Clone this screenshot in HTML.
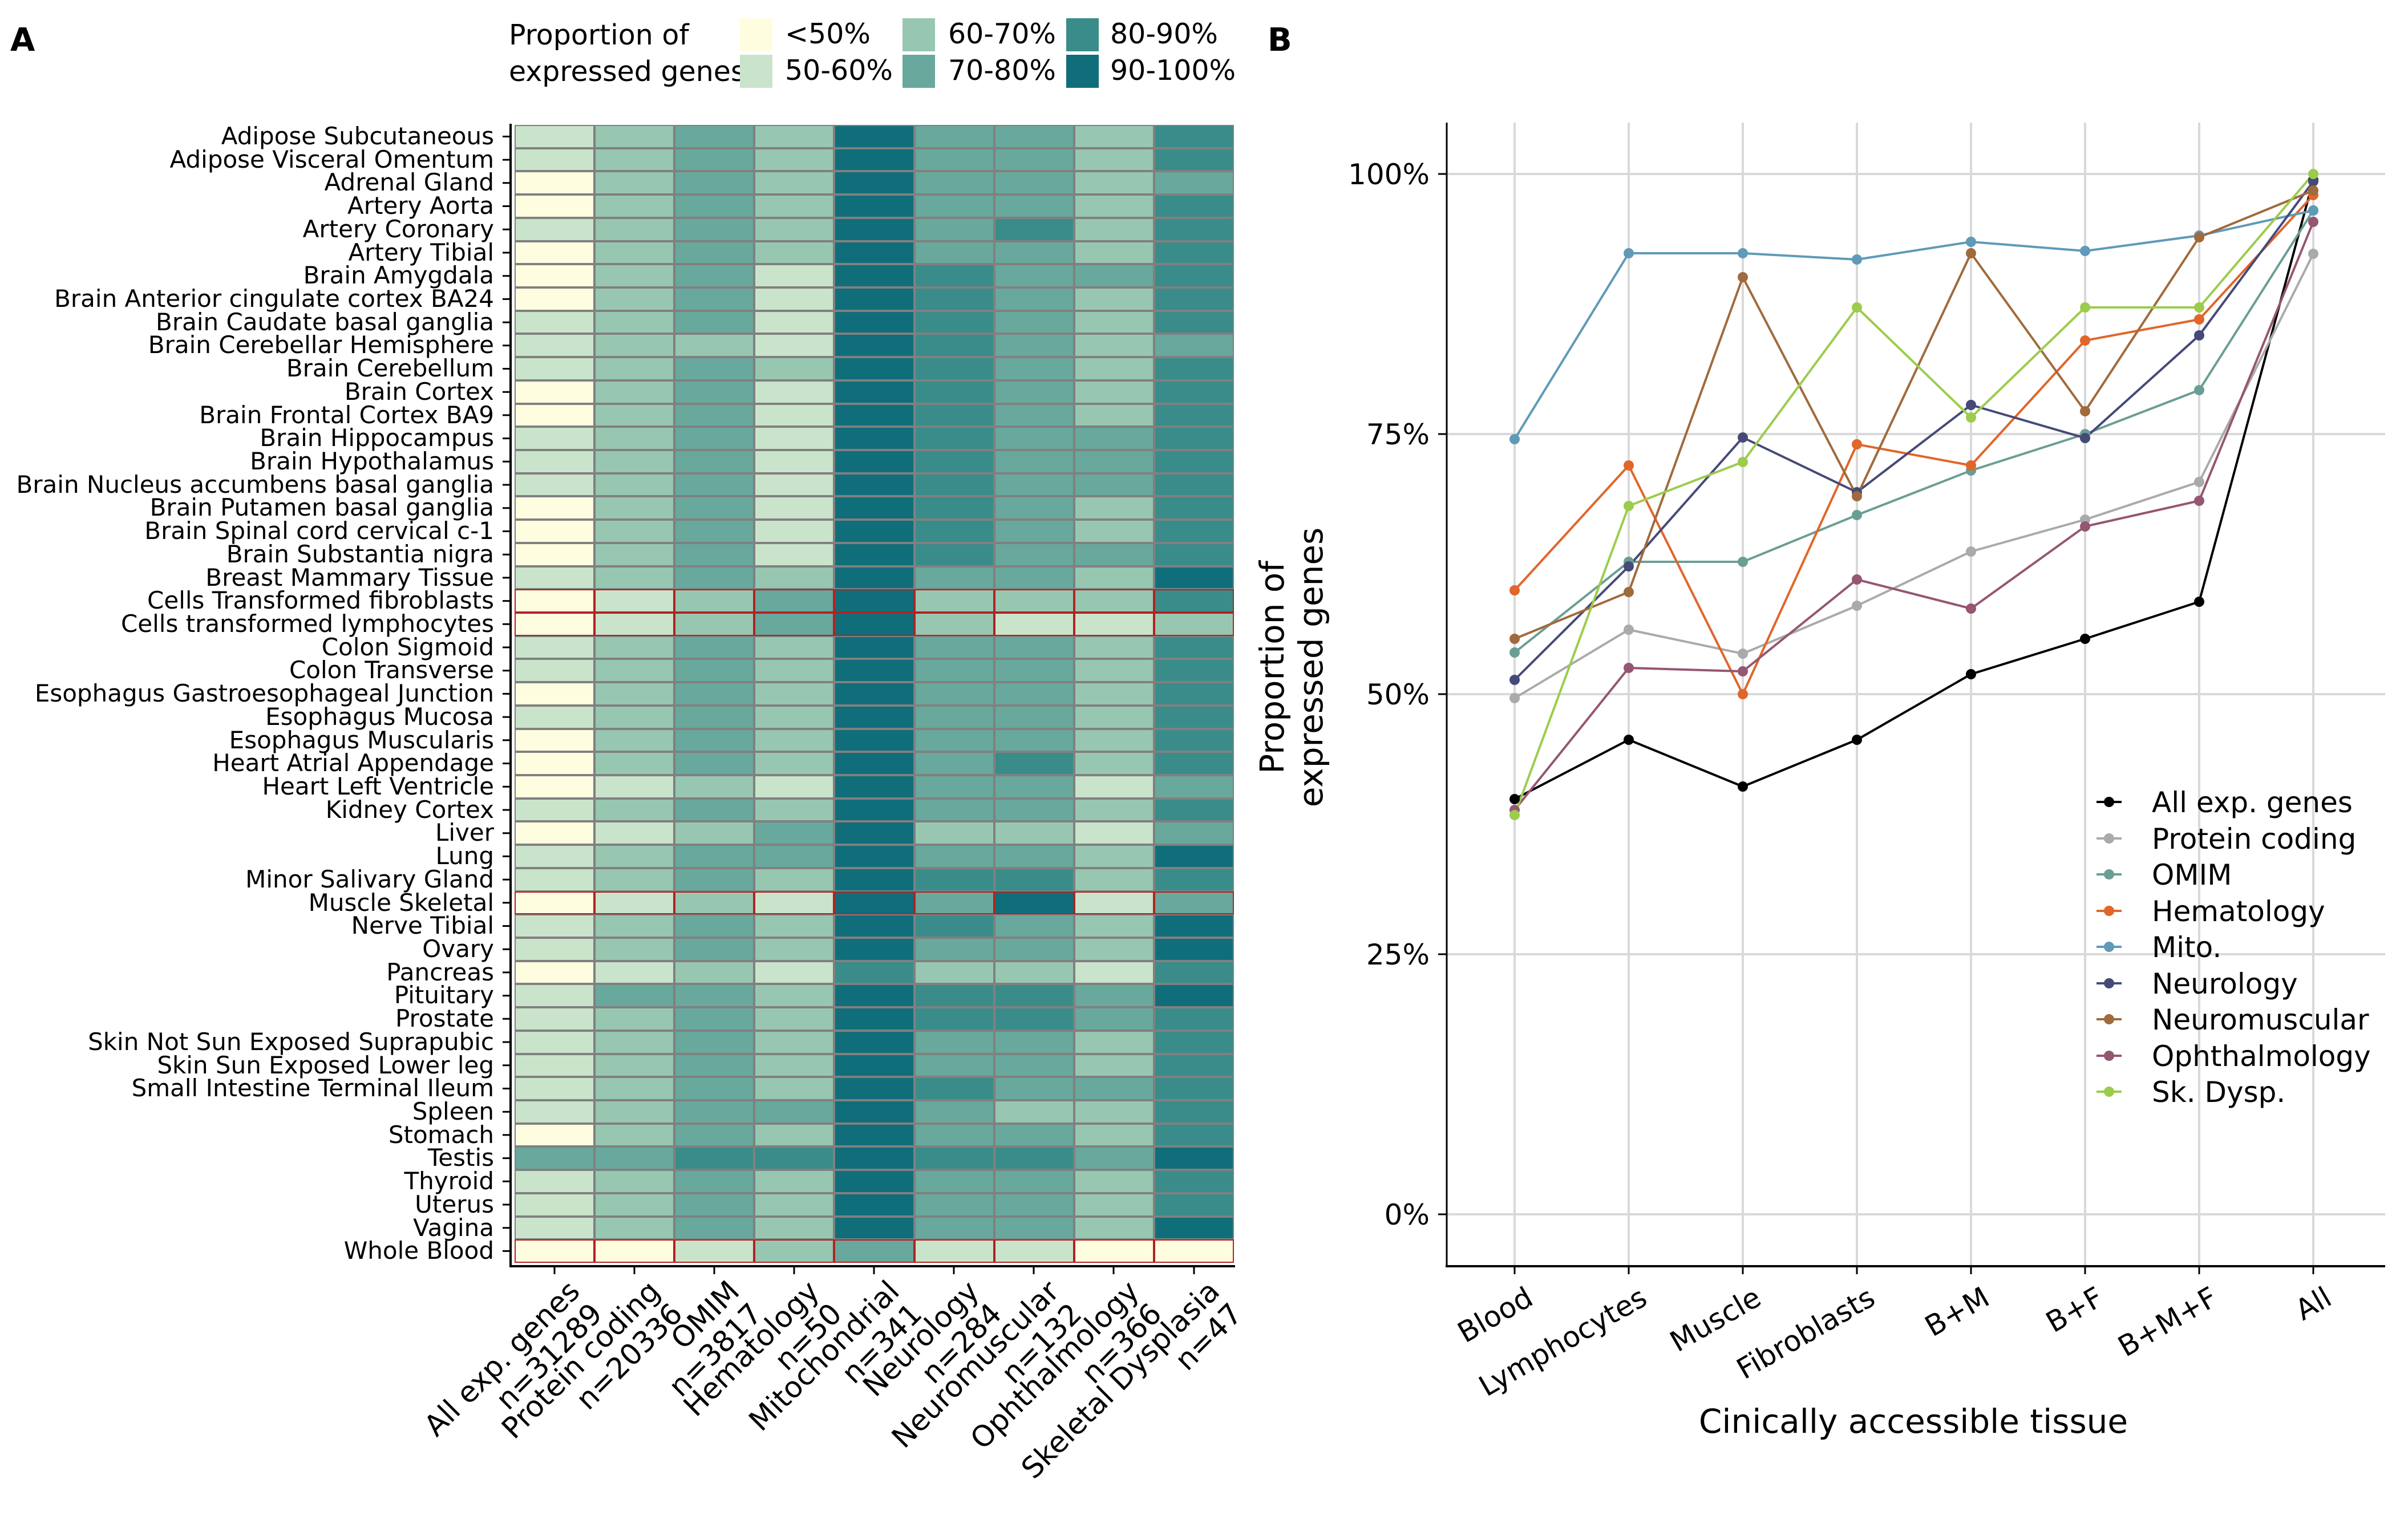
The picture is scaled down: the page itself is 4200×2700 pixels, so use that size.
<!DOCTYPE html>
<html><head><meta charset="utf-8">
<style>
*{margin:0;padding:0;box-sizing:border-box}
body{width:4200px;height:2700px;background:#fff;position:relative;overflow:hidden;font-family:"DejaVu Sans","Liberation Sans",sans-serif;color:#000}
.abs{position:absolute}
#hm{position:absolute;left:902px;top:219px;width:1261px;height:1995px;display:grid;grid-template-columns:repeat(9,1fr);grid-template-rows:repeat(49,1fr)}
#hm i{display:block;border:2px solid #808080}
#hm i.r{border-color:#b22222}
.c0{background:#fffde0}.c1{background:#c9e4ca}.c2{background:#98c7b1}.c3{background:#69a89c}.c4{background:#3a8c8a}.c5{background:#106e7a}
#rl{position:absolute;left:0;top:219px;width:866px;height:1995px;display:grid;grid-template-rows:repeat(49,1fr)}
#rl div{text-align:right;font-size:42px;line-height:40.7px;white-space:nowrap}
.ct{position:absolute;top:2236px;font-size:51px;line-height:56px;text-align:right;white-space:nowrap;transform-origin:100% 0;transform:rotate(-45deg)}
.xt{position:absolute;top:2246px;font-size:50px;line-height:56px;text-align:right;white-space:nowrap;transform-origin:100% 0;transform:rotate(-30deg)}
.lg{position:absolute;font-size:49px;white-space:nowrap;line-height:56px}
</style></head><body>
<div class="abs" style="left:18px;top:38px;font-size:56px;font-weight:bold">A</div>
<div class="abs" style="left:2222px;top:38px;font-size:56px;font-weight:bold">B</div>

<div class="lg" style="left:892px;top:34px">Proportion of</div>
<div class="lg" style="left:892px;top:98px;width:405px;overflow:hidden">expressed genes</div>
<div class="abs c0" style="left:1297px;top:32px;width:57px;height:58px"></div>
<div class="abs c1" style="left:1297px;top:96px;width:57px;height:58px"></div>
<div class="abs c2" style="left:1582px;top:32px;width:57px;height:58px"></div>
<div class="abs c3" style="left:1582px;top:96px;width:57px;height:58px"></div>
<div class="abs c4" style="left:1869px;top:32px;width:57px;height:58px"></div>
<div class="abs c5" style="left:1869px;top:96px;width:57px;height:58px"></div>
<div class="lg" style="left:1376px;top:32px">&lt;50%</div>
<div class="lg" style="left:1376px;top:96px">50-60%</div>
<div class="lg" style="left:1662px;top:32px">60-70%</div>
<div class="lg" style="left:1662px;top:96px">70-80%</div>
<div class="lg" style="left:1946px;top:32px">80-90%</div>
<div class="lg" style="left:1946px;top:96px">90-100%</div>

<div id="rl">
<div>Adipose Subcutaneous</div><div>Adipose Visceral Omentum</div><div>Adrenal Gland</div><div>Artery Aorta</div><div>Artery Coronary</div><div>Artery Tibial</div><div>Brain Amygdala</div><div>Brain Anterior cingulate cortex BA24</div><div>Brain Caudate basal ganglia</div><div>Brain Cerebellar Hemisphere</div><div>Brain Cerebellum</div><div>Brain Cortex</div><div>Brain Frontal Cortex BA9</div><div>Brain Hippocampus</div><div>Brain Hypothalamus</div><div>Brain Nucleus accumbens basal ganglia</div><div>Brain Putamen basal ganglia</div><div>Brain Spinal cord cervical c-1</div><div>Brain Substantia nigra</div><div>Breast Mammary Tissue</div><div>Cells Transformed fibroblasts</div><div>Cells transformed lymphocytes</div><div>Colon Sigmoid</div><div>Colon Transverse</div><div>Esophagus Gastroesophageal Junction</div><div>Esophagus Mucosa</div><div>Esophagus Muscularis</div><div>Heart Atrial Appendage</div><div>Heart Left Ventricle</div><div>Kidney Cortex</div><div>Liver</div><div>Lung</div><div>Minor Salivary Gland</div><div>Muscle Skeletal</div><div>Nerve Tibial</div><div>Ovary</div><div>Pancreas</div><div>Pituitary</div><div>Prostate</div><div>Skin Not Sun Exposed Suprapubic</div><div>Skin Sun Exposed Lower leg</div><div>Small Intestine Terminal Ileum</div><div>Spleen</div><div>Stomach</div><div>Testis</div><div>Thyroid</div><div>Uterus</div><div>Vagina</div><div>Whole Blood</div>
</div>

<div id="hm">
<i class=c1></i><i class=c2></i><i class=c3></i><i class=c2></i><i class=c5></i><i class=c3></i><i class=c3></i><i class=c2></i><i class=c4></i>
<i class=c1></i><i class=c2></i><i class=c3></i><i class=c2></i><i class=c5></i><i class=c3></i><i class=c3></i><i class=c2></i><i class=c4></i>
<i class=c0></i><i class=c2></i><i class=c3></i><i class=c2></i><i class=c5></i><i class=c3></i><i class=c3></i><i class=c2></i><i class=c3></i>
<i class=c0></i><i class=c2></i><i class=c3></i><i class=c2></i><i class=c5></i><i class=c3></i><i class=c3></i><i class=c2></i><i class=c4></i>
<i class=c1></i><i class=c2></i><i class=c3></i><i class=c2></i><i class=c5></i><i class=c3></i><i class=c4></i><i class=c2></i><i class=c4></i>
<i class=c0></i><i class=c2></i><i class=c3></i><i class=c2></i><i class=c5></i><i class=c3></i><i class=c3></i><i class=c2></i><i class=c4></i>
<i class=c0></i><i class=c2></i><i class=c3></i><i class=c1></i><i class=c5></i><i class=c4></i><i class=c3></i><i class=c3></i><i class=c4></i>
<i class=c0></i><i class=c2></i><i class=c3></i><i class=c1></i><i class=c5></i><i class=c4></i><i class=c3></i><i class=c2></i><i class=c4></i>
<i class=c1></i><i class=c2></i><i class=c3></i><i class=c1></i><i class=c5></i><i class=c4></i><i class=c3></i><i class=c2></i><i class=c4></i>
<i class=c1></i><i class=c2></i><i class=c2></i><i class=c1></i><i class=c5></i><i class=c4></i><i class=c3></i><i class=c2></i><i class=c3></i>
<i class=c1></i><i class=c2></i><i class=c3></i><i class=c2></i><i class=c5></i><i class=c4></i><i class=c3></i><i class=c2></i><i class=c4></i>
<i class=c0></i><i class=c2></i><i class=c3></i><i class=c1></i><i class=c5></i><i class=c4></i><i class=c3></i><i class=c2></i><i class=c4></i>
<i class=c0></i><i class=c2></i><i class=c3></i><i class=c1></i><i class=c5></i><i class=c4></i><i class=c3></i><i class=c2></i><i class=c4></i>
<i class=c1></i><i class=c2></i><i class=c3></i><i class=c1></i><i class=c5></i><i class=c4></i><i class=c3></i><i class=c3></i><i class=c4></i>
<i class=c1></i><i class=c2></i><i class=c3></i><i class=c1></i><i class=c5></i><i class=c4></i><i class=c3></i><i class=c3></i><i class=c4></i>
<i class=c1></i><i class=c2></i><i class=c3></i><i class=c1></i><i class=c5></i><i class=c4></i><i class=c3></i><i class=c3></i><i class=c4></i>
<i class=c0></i><i class=c2></i><i class=c3></i><i class=c1></i><i class=c5></i><i class=c4></i><i class=c3></i><i class=c2></i><i class=c4></i>
<i class=c0></i><i class=c2></i><i class=c3></i><i class=c1></i><i class=c5></i><i class=c4></i><i class=c3></i><i class=c2></i><i class=c4></i>
<i class=c0></i><i class=c2></i><i class=c3></i><i class=c1></i><i class=c5></i><i class=c4></i><i class=c3></i><i class=c3></i><i class=c4></i>
<i class=c1></i><i class=c2></i><i class=c3></i><i class=c2></i><i class=c5></i><i class=c3></i><i class=c3></i><i class=c2></i><i class=c5></i>
<i class="c0 r"></i><i class="c1 r"></i><i class="c2 r"></i><i class="c3 r"></i><i class="c5 r"></i><i class="c2 r"></i><i class="c2 r"></i><i class="c2 r"></i><i class="c4 r"></i>
<i class="c0 r"></i><i class="c1 r"></i><i class="c2 r"></i><i class="c3 r"></i><i class="c5 r"></i><i class="c2 r"></i><i class="c1 r"></i><i class="c1 r"></i><i class="c2 r"></i>
<i class=c1></i><i class=c2></i><i class=c3></i><i class=c2></i><i class=c5></i><i class=c3></i><i class=c3></i><i class=c2></i><i class=c4></i>
<i class=c1></i><i class=c2></i><i class=c3></i><i class=c2></i><i class=c5></i><i class=c3></i><i class=c3></i><i class=c2></i><i class=c4></i>
<i class=c0></i><i class=c2></i><i class=c3></i><i class=c2></i><i class=c5></i><i class=c3></i><i class=c3></i><i class=c2></i><i class=c4></i>
<i class=c1></i><i class=c2></i><i class=c3></i><i class=c2></i><i class=c5></i><i class=c3></i><i class=c3></i><i class=c2></i><i class=c4></i>
<i class=c0></i><i class=c2></i><i class=c3></i><i class=c2></i><i class=c5></i><i class=c3></i><i class=c3></i><i class=c2></i><i class=c4></i>
<i class=c0></i><i class=c2></i><i class=c3></i><i class=c2></i><i class=c5></i><i class=c3></i><i class=c4></i><i class=c2></i><i class=c4></i>
<i class=c0></i><i class=c1></i><i class=c2></i><i class=c1></i><i class=c5></i><i class=c3></i><i class=c3></i><i class=c1></i><i class=c3></i>
<i class=c1></i><i class=c2></i><i class=c3></i><i class=c2></i><i class=c5></i><i class=c3></i><i class=c3></i><i class=c2></i><i class=c4></i>
<i class=c0></i><i class=c1></i><i class=c2></i><i class=c3></i><i class=c5></i><i class=c2></i><i class=c2></i><i class=c1></i><i class=c3></i>
<i class=c1></i><i class=c2></i><i class=c3></i><i class=c3></i><i class=c5></i><i class=c3></i><i class=c3></i><i class=c2></i><i class=c5></i>
<i class=c1></i><i class=c2></i><i class=c3></i><i class=c2></i><i class=c5></i><i class=c4></i><i class=c4></i><i class=c2></i><i class=c4></i>
<i class="c0 r"></i><i class="c1 r"></i><i class="c2 r"></i><i class="c1 r"></i><i class="c5 r"></i><i class="c3 r"></i><i class="c5 r"></i><i class="c1 r"></i><i class="c3 r"></i>
<i class=c1></i><i class=c2></i><i class=c3></i><i class=c2></i><i class=c5></i><i class=c4></i><i class=c3></i><i class=c2></i><i class=c5></i>
<i class=c1></i><i class=c2></i><i class=c3></i><i class=c2></i><i class=c5></i><i class=c3></i><i class=c3></i><i class=c2></i><i class=c5></i>
<i class=c0></i><i class=c1></i><i class=c2></i><i class=c1></i><i class=c4></i><i class=c2></i><i class=c2></i><i class=c1></i><i class=c4></i>
<i class=c1></i><i class=c3></i><i class=c3></i><i class=c2></i><i class=c5></i><i class=c4></i><i class=c4></i><i class=c3></i><i class=c5></i>
<i class=c1></i><i class=c2></i><i class=c3></i><i class=c2></i><i class=c5></i><i class=c4></i><i class=c4></i><i class=c3></i><i class=c4></i>
<i class=c1></i><i class=c2></i><i class=c3></i><i class=c2></i><i class=c5></i><i class=c3></i><i class=c3></i><i class=c2></i><i class=c4></i>
<i class=c1></i><i class=c2></i><i class=c3></i><i class=c2></i><i class=c5></i><i class=c3></i><i class=c3></i><i class=c2></i><i class=c4></i>
<i class=c1></i><i class=c2></i><i class=c3></i><i class=c2></i><i class=c5></i><i class=c4></i><i class=c3></i><i class=c3></i><i class=c4></i>
<i class=c1></i><i class=c2></i><i class=c3></i><i class=c3></i><i class=c5></i><i class=c3></i><i class=c2></i><i class=c2></i><i class=c4></i>
<i class=c0></i><i class=c2></i><i class=c3></i><i class=c2></i><i class=c5></i><i class=c3></i><i class=c3></i><i class=c2></i><i class=c4></i>
<i class=c3></i><i class=c3></i><i class=c4></i><i class=c4></i><i class=c5></i><i class=c4></i><i class=c4></i><i class=c3></i><i class=c5></i>
<i class=c1></i><i class=c2></i><i class=c3></i><i class=c2></i><i class=c5></i><i class=c3></i><i class=c3></i><i class=c2></i><i class=c4></i>
<i class=c1></i><i class=c2></i><i class=c3></i><i class=c2></i><i class=c5></i><i class=c3></i><i class=c3></i><i class=c2></i><i class=c4></i>
<i class=c1></i><i class=c2></i><i class=c3></i><i class=c2></i><i class=c5></i><i class=c3></i><i class=c3></i><i class=c2></i><i class=c5></i>
<i class="c0 r"></i><i class="c0 r"></i><i class="c1 r"></i><i class="c2 r"></i><i class="c3 r"></i><i class="c1 r"></i><i class="c1 r"></i><i class="c0 r"></i><i class="c0 r"></i>
</div>

<svg class="abs" style="left:0;top:0" width="4200" height="2700">
<g stroke="#000" stroke-width="4">
<line x1="895" y1="217" x2="895" y2="2222"/>
<line x1="893" y1="2220" x2="2165" y2="2220"/>
</g>
<g stroke="#000" stroke-width="3">
<path d="M881 239.4h14M881 280.1h14M881 320.8h14M881 361.5h14M881 402.2h14M881 443h14M881 483.7h14M881 524.4h14M881 565.1h14M881 605.8h14M881 646.5h14M881 687.2h14M881 727.9h14M881 768.6h14M881 809.3h14M881 850h14M881 890.7h14M881 931.5h14M881 972.2h14M881 1012.9h14M881 1053.6h14M881 1094.3h14M881 1135h14M881 1175.7h14M881 1216.4h14M881 1257.1h14M881 1297.8h14M881 1338.5h14M881 1379.2h14M881 1420h14M881 1460.7h14M881 1501.4h14M881 1542.1h14M881 1582.8h14M881 1623.5h14M881 1664.2h14M881 1704.9h14M881 1745.6h14M881 1786.3h14M881 1827h14M881 1867.7h14M881 1908.5h14M881 1949.2h14M881 1989.9h14M881 2030.6h14M881 2071.3h14M881 2112h14M881 2152.7h14M881 2193.4h14"/>
<path d="M972 2220v14M1112 2220v14M1252 2220v14M1392 2220v14M1532 2220v14M1672 2220v14M1812 2220v14M1952 2220v14M2093 2220v14"/>
</g>

<g stroke="#d9d9d9" stroke-width="4">
<path d="M2536 305H4181M2536 761H4181M2536 1217H4181M2536 1673H4181M2536 2129H4181"/>
<path d="M2655 215V2220M2855 215V2220M3055 215V2220M3255 215V2220M3455 215V2220M3655 215V2220M3855 215V2220M4055 215V2220"/>
</g>
<g stroke="#000">
<line x1="2536" y1="215" x2="2536" y2="2222" stroke-width="3"/>
<line x1="2534" y1="2220" x2="4181" y2="2220" stroke-width="4"/>
<path stroke-width="3" d="M2521 305h15M2521 761h15M2521 1217h15M2521 1673h15M2521 2129h15M2655 2220v14M2855 2220v14M3055 2220v14M3255 2220v14M3455 2220v14M3655 2220v14M3855 2220v14M4055 2220v14"/>
</g>
<g font-family="DejaVu Sans, Liberation Sans, sans-serif" font-size="50" text-anchor="end">
<text x="2506" y="323">100%</text>
<text x="2506" y="779">75%</text>
<text x="2506" y="1235">50%</text>
<text x="2506" y="1691">25%</text>
<text x="2506" y="2147">0%</text>
</g>

<g fill="none" stroke-width="4" stroke-linejoin="round">
<polyline stroke="#000" points="2655,1401 2855,1297 3055,1379 3255,1297 3455,1182 3655,1120 3855,1055 4055,316"/>
<polyline stroke="#aaaaaa" points="2655,1224 2855,1104 3055,1146 3255,1062 3455,967 3655,911 3855,845 4055,445"/>
<polyline stroke="#6a9e94" points="2655,1144 2855,985 3055,985 3255,903 3455,825 3655,761 3855,684 4055,369"/>
<polyline stroke="#e0662a" points="2655,1035 2855,816 3055,1217 3255,779 3455,816 3655,597 3855,560 4055,342"/>
<polyline stroke="#5f9ab8" points="2655,770 2855,444 3055,444 3255,455 3455,424 3655,440 3855,413 4055,369"/>
<polyline stroke="#454a78" points="2655,1192 2855,993 3055,767 3255,863 3455,710 3655,768 3855,588 4055,318"/>
<polyline stroke="#a06a3c" points="2655,1120 2855,1038 3055,486 3255,870 3455,444 3655,721 3855,416 4055,334"/>
<polyline stroke="#955672" points="2655,1420 2855,1171 3055,1177 3255,1016 3455,1067 3655,923 3855,878 4055,389"/>
<polyline stroke="#9ccc4c" points="2655,1429 2855,887 3055,810 3255,539 3455,732 3655,539 3855,539 4055,305"/>
</g>
<g>
<g fill="#000"><circle cx="2655" cy="1401" r="9"/><circle cx="2855" cy="1297" r="9"/><circle cx="3055" cy="1379" r="9"/><circle cx="3255" cy="1297" r="9"/><circle cx="3455" cy="1182" r="9"/><circle cx="3655" cy="1120" r="9"/><circle cx="3855" cy="1055" r="9"/><circle cx="4055" cy="316" r="9"/></g>
<g fill="#aaaaaa"><circle cx="2655" cy="1224" r="9"/><circle cx="2855" cy="1104" r="9"/><circle cx="3055" cy="1146" r="9"/><circle cx="3255" cy="1062" r="9"/><circle cx="3455" cy="967" r="9"/><circle cx="3655" cy="911" r="9"/><circle cx="3855" cy="845" r="9"/><circle cx="4055" cy="445" r="9"/></g>
<g fill="#6a9e94"><circle cx="2655" cy="1144" r="9"/><circle cx="2855" cy="985" r="9"/><circle cx="3055" cy="985" r="9"/><circle cx="3255" cy="903" r="9"/><circle cx="3455" cy="825" r="9"/><circle cx="3655" cy="761" r="9"/><circle cx="3855" cy="684" r="9"/><circle cx="4055" cy="369" r="9"/></g>
<g fill="#e0662a"><circle cx="2655" cy="1035" r="9"/><circle cx="2855" cy="816" r="9"/><circle cx="3055" cy="1217" r="9"/><circle cx="3255" cy="779" r="9"/><circle cx="3455" cy="816" r="9"/><circle cx="3655" cy="597" r="9"/><circle cx="3855" cy="560" r="9"/><circle cx="4055" cy="342" r="9"/></g>
<g fill="#5f9ab8"><circle cx="2655" cy="770" r="9"/><circle cx="2855" cy="444" r="9"/><circle cx="3055" cy="444" r="9"/><circle cx="3255" cy="455" r="9"/><circle cx="3455" cy="424" r="9"/><circle cx="3655" cy="440" r="9"/><circle cx="3855" cy="413" r="9"/><circle cx="4055" cy="369" r="9"/></g>
<g fill="#454a78"><circle cx="2655" cy="1192" r="9"/><circle cx="2855" cy="993" r="9"/><circle cx="3055" cy="767" r="9"/><circle cx="3255" cy="863" r="9"/><circle cx="3455" cy="710" r="9"/><circle cx="3655" cy="768" r="9"/><circle cx="3855" cy="588" r="9"/><circle cx="4055" cy="318" r="9"/></g>
<g fill="#a06a3c"><circle cx="2655" cy="1120" r="9"/><circle cx="2855" cy="1038" r="9"/><circle cx="3055" cy="486" r="9"/><circle cx="3255" cy="870" r="9"/><circle cx="3455" cy="444" r="9"/><circle cx="3655" cy="721" r="9"/><circle cx="3855" cy="416" r="9"/><circle cx="4055" cy="334" r="9"/></g>
<g fill="#955672"><circle cx="2655" cy="1420" r="9"/><circle cx="2855" cy="1171" r="9"/><circle cx="3055" cy="1177" r="9"/><circle cx="3255" cy="1016" r="9"/><circle cx="3455" cy="1067" r="9"/><circle cx="3655" cy="923" r="9"/><circle cx="3855" cy="878" r="9"/><circle cx="4055" cy="389" r="9"/></g>
<g fill="#9ccc4c"><circle cx="2655" cy="1429" r="9"/><circle cx="2855" cy="887" r="9"/><circle cx="3055" cy="810" r="9"/><circle cx="3255" cy="539" r="9"/><circle cx="3455" cy="732" r="9"/><circle cx="3655" cy="539" r="9"/><circle cx="3855" cy="539" r="9"/><circle cx="4055" cy="305" r="9"/></g>
</g>

<g stroke-width="4">
<line x1="3675" y1="1406" x2="3719" y2="1406" stroke="#000"/><circle cx="3697" cy="1406" r="9" fill="#000"/>
<line x1="3675" y1="1470" x2="3719" y2="1470" stroke="#aaaaaa"/><circle cx="3697" cy="1470" r="9" fill="#aaaaaa"/>
<line x1="3675" y1="1533" x2="3719" y2="1533" stroke="#6a9e94"/><circle cx="3697" cy="1533" r="9" fill="#6a9e94"/>
<line x1="3675" y1="1597" x2="3719" y2="1597" stroke="#e0662a"/><circle cx="3697" cy="1597" r="9" fill="#e0662a"/>
<line x1="3675" y1="1660" x2="3719" y2="1660" stroke="#5f9ab8"/><circle cx="3697" cy="1660" r="9" fill="#5f9ab8"/>
<line x1="3675" y1="1724" x2="3719" y2="1724" stroke="#454a78"/><circle cx="3697" cy="1724" r="9" fill="#454a78"/>
<line x1="3675" y1="1787" x2="3719" y2="1787" stroke="#a06a3c"/><circle cx="3697" cy="1787" r="9" fill="#a06a3c"/>
<line x1="3675" y1="1851" x2="3719" y2="1851" stroke="#955672"/><circle cx="3697" cy="1851" r="9" fill="#955672"/>
<line x1="3675" y1="1914" x2="3719" y2="1914" stroke="#9ccc4c"/><circle cx="3697" cy="1914" r="9" fill="#9ccc4c"/>
</g>
<g font-family="DejaVu Sans, Liberation Sans, sans-serif" font-size="50">
<text x="3772" y="1424">All exp. genes</text>
<text x="3772" y="1488">Protein coding</text>
<text x="3772" y="1551">OMIM</text>
<text x="3772" y="1615">Hematology</text>
<text x="3772" y="1678">Mito.</text>
<text x="3772" y="1742">Neurology</text>
<text x="3772" y="1805">Neuromuscular</text>
<text x="3772" y="1869">Ophthalmology</text>
<text x="3772" y="1932">Sk. Dysp.</text>
</g>

<g font-family="DejaVu Sans, Liberation Sans, sans-serif" font-size="58" text-anchor="middle">
<text x="3354" y="2512">Cinically accessible tissue</text>
<g transform="translate(2262,1170) rotate(-90)"><text x="0" y="-12">Proportion of</text><text x="0" y="56">expressed genes</text></g>
</g>
</svg>

<div class="ct" style="right:3212px">All exp. genes<br>n=31289</div>
<div class="ct" style="right:3072px">Protein coding<br>n=20336</div>
<div class="ct" style="right:2932px">OMIM<br>n=3817</div>
<div class="ct" style="right:2792px">Hematology<br>n=50</div>
<div class="ct" style="right:2652px">Mitochondrial<br>n=341</div>
<div class="ct" style="right:2512px">Neurology<br>n=284</div>
<div class="ct" style="right:2372px">Neuromuscular<br>n=132</div>
<div class="ct" style="right:2232px">Ophthalmology<br>n=366</div>
<div class="ct" style="right:2091px">Skeletal Dysplasia<br>n=47</div>

<div class="xt" style="right:1532px">Blood</div>
<div class="xt" style="right:1332px">Lymphocytes</div>
<div class="xt" style="right:1132px">Muscle</div>
<div class="xt" style="right:932px">Fibroblasts</div>
<div class="xt" style="right:732px">B+M</div>
<div class="xt" style="right:532px">B+F</div>
<div class="xt" style="right:332px">B+M+F</div>
<div class="xt" style="right:132px">All</div>
</body></html>
